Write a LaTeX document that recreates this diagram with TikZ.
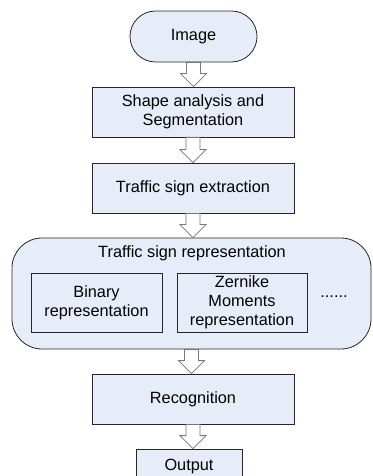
\documentclass[tikz,border=0pt]{standalone}
\usepackage{fontspec}
\setmainfont{Liberation Sans}
\usetikzlibrary{calc}
\definecolor{boxfill}{RGB}{231,237,248}
\definecolor{arrline}{RGB}{120,120,120}
\tikzset{
  procbox/.style={draw=black!85, line width=0.8bp, fill=boxfill, align=center, inner sep=0pt,
    font=\fontsize{16.3bp}{18.8bp}\selectfont},
  blockarr/.style={draw=arrline, fill=white, line width=0.8bp, line join=miter},
}
\newcommand\blockarrow[2]{%
  \path[blockarr] let \p1=(#1.south), \p2=(#2.north) in
    (\x1-7bp,\y1) -- (\x1+7bp,\y1) -- (\x1+7bp,\y2+13bp) -- (\x1+13bp,\y2+13bp)
    -- (\x1,\y2) -- (\x1-13bp,\y2+13bp) -- (\x1-7bp,\y2+13bp) -- cycle;}
\begin{document}
\begin{tikzpicture}[x=1bp,y=-1bp]
\useasboundingbox (0,0) rectangle (372,476);
\clip (0,0) rectangle (372,476);
\node[procbox, minimum width=127bp, minimum height=51bp, rounded corners=25.5bp] (img) at (193.5,36.5) {Image};
\node[procbox, minimum width=202bp, minimum height=50bp] (shape) at (193,112) {Shape analysis and\\Segmentation};
\node[procbox, minimum width=202bp, minimum height=50bp] (extr) at (193,188) {Traffic sign extraction};
\node[procbox, minimum width=359bp, minimum height=111bp, rounded corners=30bp] (rep) at (191.5,293.5) {};
\node[font=\fontsize{16.3bp}{18.8bp}\selectfont, inner sep=0pt] (title) at (192,253) {Traffic sign representation};
\node[procbox, minimum width=131bp, minimum height=59bp] (bin) at (96.5,302.5) {Binary\\representation};
\node[procbox, minimum width=130bp, minimum height=59bp] (zern) at (242,302.5) {Zernike\\Moments\\representation};
\node[font=\fontsize{16.3bp}{18.8bp}\selectfont, inner sep=0pt] (dots) at (334,297) {......};
\node[procbox, minimum width=202bp, minimum height=50bp] (recog) at (193,399) {Recognition};
\node[procbox, minimum width=106bp, minimum height=34bp] (out) at (189,466) {Output};
\blockarrow{img}{shape}
\blockarrow{shape}{extr}
\blockarrow{extr}{rep}
\blockarrow{rep}{recog}
\blockarrow{recog}{out}
\end{tikzpicture}
\end{document}
